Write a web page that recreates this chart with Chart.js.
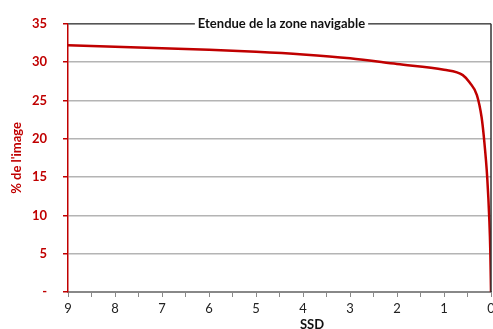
<!DOCTYPE html>
<html>
<head>
<meta charset="utf-8">
<script src="https://cdn.jsdelivr.net/npm/chart.js@4"></script>
<style>
  html, body { margin: 0; padding: 0; background: #fff; }
  #wrap { width: 493px; height: 329px; }
</style>
</head>
<body>
<div id="wrap"><canvas id="chart"></canvas></div>
<script>
// SSD values (x) and share of the image (y)
const ssd = [9, 8, 7, 6, 5, 4, 3, 2, 1, 0.6, 0.45, 0.3, 0.2, 0.15, 0.08, 0.035, 0.015, 0];
const percent = [32.2, 32.0, 31.8, 31.6, 31.35, 31.0, 30.5, 29.75, 29.0, 28.3, 27.3, 25.7, 22.8, 20.1, 14.9, 9.3, 5.4, 0];

const title = "Etendue de la zone navigable";
const xTitle = "SSD";
const yTitle = "% de l'image";

const red = "#c00000";
const fontFamily = "Lato, 'Open Sans', sans-serif";

let ctx;

// frame on top/right + title sitting on the top edge + SSD label
const framePlugin = {
  id: "frame",
  afterDraw(chart) {
    let c = chart.ctx;
    let a = chart.chartArea;
    c.save();
    c.strokeStyle = "#555";
    c.lineWidth = 1.5;
    c.beginPath();
    c.moveTo(a.left, a.top);
    c.lineTo(a.right, a.top);
    c.stroke();
    c.strokeStyle = "#333";
    c.beginPath();
    c.moveTo(a.right, a.top);
    c.lineTo(a.right, a.bottom);
    c.stroke();

    c.font = "bold 13px " + fontFamily;
    c.textAlign = "center";
    c.textBaseline = "middle";
    let cx = 281.5;
    let w = c.measureText(title).width;
    c.fillStyle = "#fff";
    c.fillRect(cx - w / 2 - 3, a.top - 8, w + 6, 16);
    c.fillStyle = "#111";
    c.fillText(title, cx, a.top);

    c.textBaseline = "top";
    c.fillText(xTitle, 312, 318);
    c.restore();
  }
};

function init(){
  ctx = document.querySelector("#chart").getContext("2d");
  new Chart(ctx, {
    type: "line",
    data: {
      datasets: [{
        data: ssd.map((x, i) => ({x: x, y: percent[i]})),
        borderColor: red,
        borderWidth: 2.5,
        pointRadius: 0,
        cubicInterpolationMode: "monotone",
        fill: false
      }]
    },
    options: {
      responsive: true,
      maintainAspectRatio: false,
      animation: false,
      layout: { padding: { top: 21, right: 2, left: 0, bottom: 0 } },
      plugins: { legend: { display: false }, tooltip: { enabled: false } },
      scales: {
        x: {
          type: "linear",
          reverse: true,
          min: 0,
          max: 9,
          afterFit(axis){
            axis.height = 37;
            axis.paddingLeft = 0;
            axis.paddingRight = 0;
          },
          ticks: {
            stepSize: 0.5,
            autoSkip: false,
            maxRotation: 0,
            padding: 4,
            color: "#222",
            font: { family: fontFamily, size: 13 },
            callback: v => Number.isInteger(v) ? v : ""
          },
          grid: { drawOnChartArea: false, drawTicks: true, tickLength: 5, color: "#888" },
          border: { color: "#888", width: 2 }
        },
        y: {
          min: 0,
          max: 35,
          afterFit(axis){ axis.width = 68; },
          ticks: {
            stepSize: 5,
            padding: 16,
            color: red,
            font: { family: fontFamily, size: 13, weight: "bold" },
            callback: v => v === 0 ? "-" : v
          },
          grid: { color: "#b4b4b4", lineWidth: 1.5, tickLength: 5, tickColor: red },
          border: { color: red, width: 1.5 },
          title: {
            display: true,
            text: yTitle,
            color: red,
            padding: { top: 9, bottom: 0 },
            font: { family: fontFamily, size: 13, weight: "bold" }
          }
        }
      }
    },
    plugins: [framePlugin]
  });
}

window.addEventListener("load", init);
</script>
</body>
</html>
